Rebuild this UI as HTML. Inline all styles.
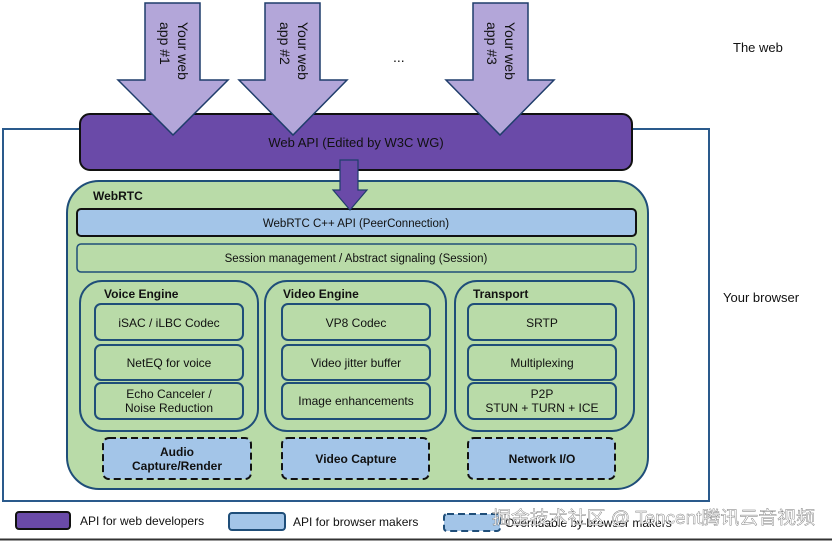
<!DOCTYPE html>
<html><head><meta charset="utf-8"><style>
html,body{margin:0;padding:0;background:#fff}
svg{display:block}
text{font-family:"Liberation Sans",Arial,sans-serif;fill:#111}
</style></head><body>
<svg width="832" height="541" viewBox="0 0 832 541" xmlns="http://www.w3.org/2000/svg">
<rect x="0" y="0" width="832" height="541" fill="#fff"/>
<rect x="3" y="129" width="706" height="372" fill="#fff" stroke="#2a5a8c" stroke-width="2"/>
<rect x="80" y="114" width="552" height="56" rx="10" fill="#6a4aa8" stroke="#111" stroke-width="2"/>
<g fill="#b3a6d9" stroke="#1f3d6b" stroke-width="1.5">
<polygon points="145,3 200,3 200,80 228,80 173,135 118,80 145,80"/>
<polygon points="265,3 320,3 320,80 347,80 293,135 239,80 265,80"/>
<polygon points="473,3 528,3 528,80 554,80 500,135 446,80 473,80"/>
</g>
<g font-size="14">
<text transform="translate(178,22) rotate(90)">Your web</text>
<text transform="translate(160,22) rotate(90)">app #1</text>
<text transform="translate(298,22) rotate(90)">Your web</text>
<text transform="translate(280,22) rotate(90)">app #2</text>
<text transform="translate(505,22) rotate(90)">Your web</text>
<text transform="translate(487,22) rotate(90)">app #3</text>
</g>
<text x="393" y="62" font-size="14">...</text>
<text x="356" y="147" font-size="13" text-anchor="middle" fill="#111">Web API (Edited by W3C WG)</text>
<text x="733" y="52" font-size="13">The web</text>
<text x="723" y="302" font-size="13">Your browser</text>
<rect x="67" y="181" width="581" height="308" rx="32" fill="#b9dba8" stroke="#1f4e79" stroke-width="2"/>
<text x="93" y="200" font-size="12" font-weight="bold">WebRTC</text>
<rect x="77" y="209" width="559" height="27" rx="4" fill="#a3c5e8" stroke="#111" stroke-width="2"/>
<text x="356" y="227" font-size="11.5" text-anchor="middle">WebRTC C++ API (PeerConnection)</text>
<rect x="77" y="244" width="559" height="28" rx="4" fill="#b9dba8" stroke="#1f4e79" stroke-width="1.5"/>
<text x="356" y="262" font-size="11.5" text-anchor="middle">Session management / Abstract signaling (Session)</text>
<polygon points="340,160 358,160 358,190 367,190 350,210 333,190 340,190" fill="#6a4aa8" stroke="#1f3d6b" stroke-width="1.2"/>
<g fill="none" stroke="#1f4e79" stroke-width="2">
<rect x="80" y="281" width="178" height="150" rx="22"/>
<rect x="265" y="281" width="181" height="150" rx="22"/>
<rect x="455" y="281" width="179" height="150" rx="22"/>
</g>
<g font-size="12" font-weight="bold">
<text x="104" y="298">Voice Engine</text>
<text x="283" y="298">Video Engine</text>
<text x="473" y="298">Transport</text>
</g>
<g fill="#b9dba8" stroke="#1f4e79" stroke-width="2">
<rect x="95" y="304" width="148" height="36" rx="6"/>
<rect x="95" y="345" width="148" height="35" rx="6"/>
<rect x="95" y="383" width="148" height="36" rx="6"/>
<rect x="282" y="304" width="148" height="36" rx="6"/>
<rect x="282" y="345" width="148" height="35" rx="6"/>
<rect x="282" y="383" width="148" height="36" rx="6"/>
<rect x="468" y="304" width="148" height="36" rx="6"/>
<rect x="468" y="345" width="148" height="35" rx="6"/>
<rect x="468" y="383" width="148" height="36" rx="6"/>
</g>
<g font-size="12" text-anchor="middle">
<text x="169" y="327">iSAC / iLBC Codec</text>
<text x="169" y="367">NetEQ for voice</text>
<text x="169" y="398">Echo Canceler /</text>
<text x="169" y="412">Noise Reduction</text>
<text x="356" y="327">VP8 Codec</text>
<text x="356" y="367">Video jitter buffer</text>
<text x="356" y="405">Image enhancements</text>
<text x="542" y="327">SRTP</text>
<text x="542" y="367">Multiplexing</text>
<text x="542" y="398">P2P</text>
<text x="542" y="412">STUN + TURN + ICE</text>
</g>
<g fill="#a3c5e8" stroke="#111" stroke-width="2" stroke-dasharray="7,4">
<rect x="103" y="438" width="148" height="41" rx="6"/>
<rect x="282" y="438" width="147" height="41" rx="6"/>
<rect x="468" y="438" width="147" height="41" rx="6"/>
</g>
<g font-size="12" font-weight="bold" text-anchor="middle">
<text x="177" y="456">Audio</text>
<text x="177" y="470">Capture/Render</text>
<text x="356" y="463">Video Capture</text>
<text x="542" y="463">Network I/O</text>
</g>
<rect x="16" y="512" width="54" height="17" rx="3" fill="#6a4aa8" stroke="#111" stroke-width="2"/>
<text x="80" y="525" font-size="12">API for web developers</text>
<rect x="229" y="513" width="56" height="17" rx="3" fill="#a3c5e8" stroke="#1f4e79" stroke-width="2"/>
<text x="293" y="526" font-size="12">API for browser makers</text>
<rect x="444" y="514" width="56" height="17" rx="3" fill="#a3c5e8" stroke="#1f4e79" stroke-width="2" stroke-dasharray="7,4"/>
<text x="505" y="527" font-size="12" fill="#333">Overridable by browser makers</text>
<text x="492" y="524" font-size="18" textLength="323" lengthAdjust="spacingAndGlyphs" fill="#fff" stroke="#777" stroke-width="0.4" style="font-family:'Liberation Sans','Noto Sans CJK SC',sans-serif;fill:#fff">掘金技术社区 @ Tencent腾讯云音视频</text>
<line x1="0" y1="539.5" x2="832" y2="539.5" stroke="#333" stroke-width="2"/>
</svg>
</body></html>
